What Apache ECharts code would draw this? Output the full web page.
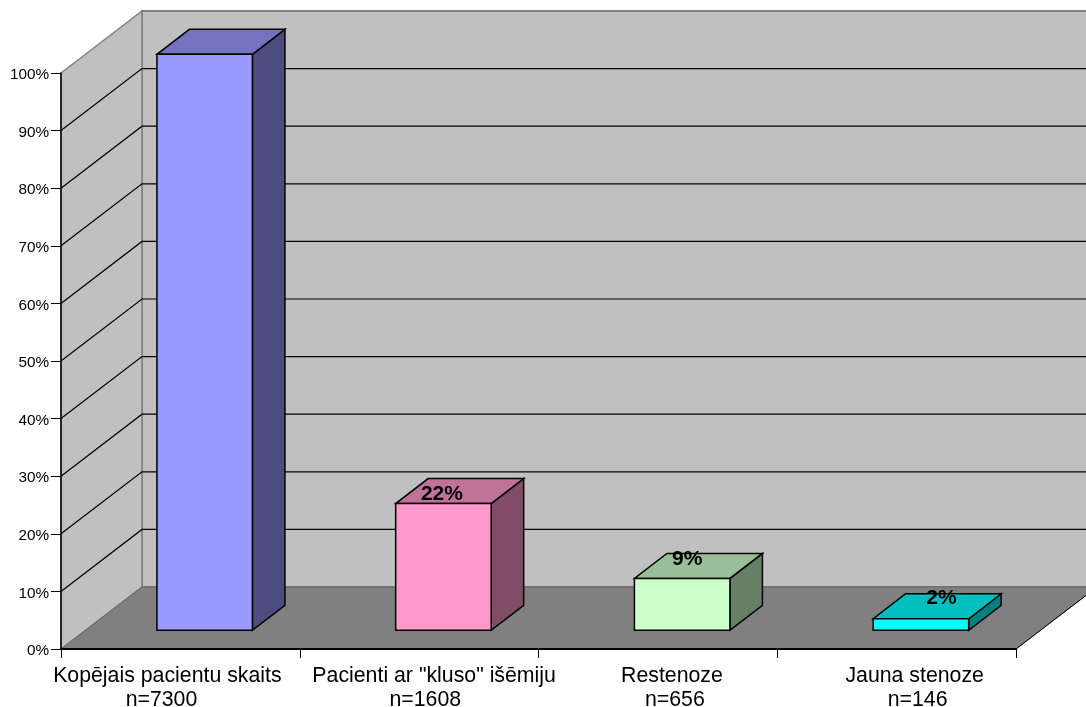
<!DOCTYPE html>
<html>
<head>
<meta charset="utf-8">
<style>html,body{margin:0;padding:0;background:#fff}#chart{width:1086px;height:707px}</style>
<script src="https://cdn.jsdelivr.net/npm/echarts@6/dist/echarts.min.js"></script>
</head>
<body>
<div id="chart"></div>
<script>
// Patient groups and their share of the whole cohort
const groupNames = ['Kopējais pacientu skaits', 'Pacienti ar "kluso" išēmiju', 'Restenoze ', 'Jauna stenoze '];
const patientCounts = ['n=7300  ', 'n=1608   ', 'n=656', 'n=146'];
const percentValues = [100, 22, 9, 2];
const valueLabels = ['', '22%', '9%', '2%'];
const percentTicks = [10, 20, 30, 40, 50, 60, 70, 80, 90];

const frontColors = ['#9999FF', '#FF99CC', '#CCFFCC', '#00FFFF'];
const topColors = ['#7373BF', '#BF7399', '#99BF99', '#00BFBF'];
const sideColors = ['#4C4C80', '#804C66', '#668066', '#008080'];

// Oblique projection of the depth axis, in pixels
const WALL_DX = 81, WALL_DY = 62;
const BAR_DX = 32.5, BAR_DY = 25;
const INSET_DX = 24.3, INSET_DY = 18.7;
// Label nudges relative to the centre of the bar's front edge
const labelNudgeX = [0, -1.5, 5, 20.5];
const labelNudgeY = [0, -9.5, -19, -20.5];
// Horizontal padding that moves each category label off its band centre: [right, left]
const categoryPadding = [[26, 0], [0, 30], [0, 34], [0, 42]];

const chart = echarts.init(document.getElementById('chart'), null, { renderer: 'canvas' });

function poly(points, fill, stroke, width) {
  return { type: 'polygon', shape: { points }, style: { fill, stroke: stroke || 'none', lineWidth: width || 0 } };
}

function renderRoom(params, api) {
  const g = params.coordSys;
  const x0 = g.x, x1 = g.x + g.width;
  const yBase = api.coord([0, 0])[1];
  const yTop = api.coord([0, 100])[1];
  const bx0 = x0 + WALL_DX, bx1 = x1 + WALL_DX;
  const grey = '#808080';
  return {
    type: 'group',
    children: [
      poly([[bx0, yTop - WALL_DY], [bx1, yTop - WALL_DY], [bx1, yBase - WALL_DY], [bx0, yBase - WALL_DY]], '#C0C0C0', grey, 2),
      poly([[x0, yBase], [x0, yTop], [bx0, yTop - WALL_DY], [bx0, yBase - WALL_DY]], '#C0C0C0', grey, 1.5),
      poly([[x0, yBase], [bx0, yBase - WALL_DY], [bx1, yBase - WALL_DY], [x1, yBase]], '#808080', '#666666', 1),
      { type: 'line', shape: { x1: x1, y1: yBase, x2: bx1, y2: yBase - WALL_DY }, style: { stroke: '#000', lineWidth: 1 } }
    ]
  };
}

function renderGridLine(params, api) {
  const g = params.coordSys;
  const y = api.coord([0, api.value(0)])[1];
  const pts = [[g.x, y], [g.x + WALL_DX, y - WALL_DY], [g.x + g.width + WALL_DX, y - WALL_DY]];
  return { type: 'polyline', shape: { points: pts }, style: { fill: 'none', stroke: '#000', lineWidth: 1.2 } };
}

function renderBar(params, api) {
  const i = params.dataIndex;
  const cx = api.coord([i, 0])[0] + INSET_DX;
  const w = api.size([1, 0])[0] * 0.4;
  const yb = api.coord([i, 0])[1] - INSET_DY;
  const yt = api.coord([i, api.value(1)])[1] - INSET_DY;
  const l = cx - w / 2, r = cx + w / 2;
  const edge = '#000';
  const children = [
    poly([[r, yb], [r, yt], [r + BAR_DX, yt - BAR_DY], [r + BAR_DX, yb - BAR_DY]], sideColors[i], edge, 1.5),
    poly([[l, yt], [r, yt], [r + BAR_DX, yt - BAR_DY], [l + BAR_DX, yt - BAR_DY]], topColors[i], edge, 1.5),
    poly([[l, yb], [r, yb], [r, yt], [l, yt]], frontColors[i], edge, 1.5)
  ];
  if (valueLabels[i]) {
    children.push({
      type: 'text',
      style: {
        x: cx + labelNudgeX[i], y: yt + labelNudgeY[i],
        text: valueLabels[i], align: 'center', verticalAlign: 'middle',
        font: 'bold 21px "Liberation Sans", Arial, sans-serif', fill: '#000'
      }
    });
  }
  return { type: 'group', children };
}

chart.setOption({
  animation: false,
  backgroundColor: '#fff',
  grid: { left: 61, right: 70, top: 73, height: 576, containLabel: false, outerBoundsMode: 'none' },
  xAxis: {
    type: 'category',
    data: groupNames.map((name, i) => ({
      value: name + '\n' + patientCounts[i],
      textStyle: { padding: [0, categoryPadding[i][0], 0, categoryPadding[i][1]] }
    })),
    z: 5,
    axisLine: { lineStyle: { color: '#000', width: 2 } },
    axisTick: { show: true, length: 9, lineStyle: { color: '#000', width: 1 } },
    axisLabel: {
      color: '#000', margin: 15, fontSize: 21.3, lineHeight: 24, interval: 0, hideOverlap: false,
      fontFamily: '"Liberation Sans", Arial, sans-serif'
    }
  },
  yAxis: {
    type: 'value', min: 0, max: 100, interval: 10,
    z: 5,
    splitLine: { show: false },
    axisLine: { show: true, lineStyle: { color: '#000', width: 1.5 } },
    axisTick: { show: true, length: 10, lineStyle: { color: '#000', width: 1 } },
    axisLabel: {
      color: '#000', margin: 12, fontSize: 15.3, formatter: '{value}%',
      verticalAlign: 'top', lineHeight: 4,
      fontFamily: '"Liberation Sans", Arial, sans-serif'
    }
  },
  series: [
    { type: 'custom', clip: false, silent: true, z: 1, renderItem: renderRoom, data: [[0]] },
    { type: 'custom', clip: false, silent: true, z: 2, renderItem: renderGridLine, encode: { y: 0 }, data: percentTicks.map(v => [v]) },
    { type: 'custom', clip: false, silent: true, z: 3, renderItem: renderBar, encode: { x: 0, y: 1 }, data: percentValues.map((v, i) => [i, v]) }
  ]
});
</script>
</body>
</html>
